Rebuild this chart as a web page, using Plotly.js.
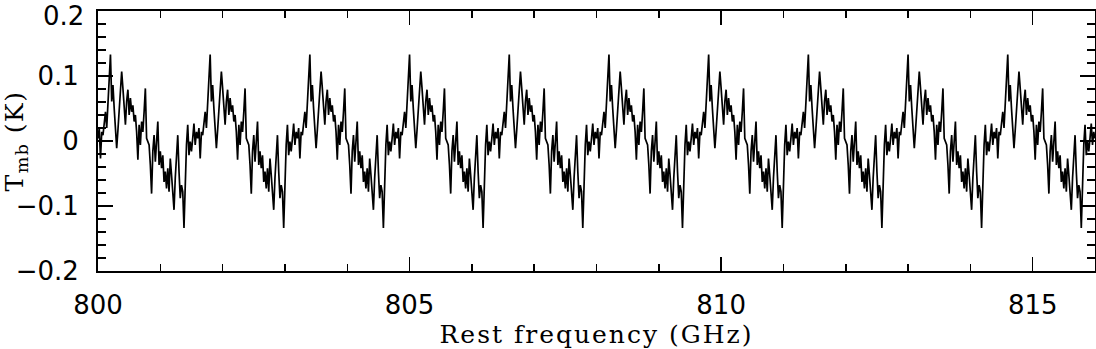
<!DOCTYPE html>
<html>
<head>
<meta charset="utf-8">
<script src="https://cdn.plot.ly/plotly-3.0.1.min.js"></script>
<style>
  html, body { margin: 0; padding: 0; background: #fff; }
  #chart { width: 1096px; height: 349px; }
  .xtitle { letter-spacing: 2px; }
  .ytitle { letter-spacing: 1.5px; }
</style>
</head>
<body>
<div id="chart"></div>
<script>
// Spectrum sampling (GHz)
const freqStart = 800;
const freqStep = 0.02;

// Main-beam temperature (K), one value per channel
const tmb = [
.004,.020,-.027,.014,.009,.030,.045,.020,.055,.091,
.133,.061,.086,.050,.020,-.011,.017,.045,.076,.107,.081,.050,.025,.061,.079,.040,.066,.045,.055,.030,.040,.014,-.029,.025,-.006,.030,.014,.045,.081,.004,-.001,-.006,-.037,-.081,-.016,.009,-.032,-.001,.030,-.037,-.016,-.042,-.022,-.063,-.047,-.073,-.042,-.078,-.027,-.052,-.078,-.106,-.057,-.022,.009,-.047,-.088,-.068,-.078,-.134,-.057,-.006,.025,-.022,-.001,-.016,.004,.027,-.006,.014,.004,.020,-.027,.014,.009,.030,.045,.020,.055,.091,
.133,.061,.086,.050,.020,-.011,.017,.045,.076,.107,.081,.050,.025,.061,.079,.040,.066,.045,.055,.030,.040,.014,-.029,.025,-.006,.030,.014,.045,.081,.004,-.001,-.006,-.037,-.081,-.016,.009,-.032,-.001,.030,-.037,-.016,-.042,-.022,-.063,-.047,-.073,-.042,-.078,-.027,-.052,-.078,-.106,-.057,-.022,.009,-.047,-.088,-.068,-.078,-.134,-.057,-.006,.025,-.022,-.001,-.016,.004,.027,-.006,.014,.004,.020,-.027,.014,.009,.030,.045,.020,.055,.091,
.133,.061,.086,.050,.020,-.011,.017,.045,.076,.107,.081,.050,.025,.061,.079,.040,.066,.045,.055,.030,.040,.014,-.029,.025,-.006,.030,.014,.045,.081,.004,-.001,-.006,-.037,-.081,-.016,.009,-.032,-.001,.030,-.037,-.016,-.042,-.022,-.063,-.047,-.073,-.042,-.078,-.027,-.052,-.078,-.106,-.057,-.022,.009,-.047,-.088,-.068,-.078,-.134,-.057,-.006,.025,-.022,-.001,-.016,.004,.027,-.006,.014,.004,.020,-.027,.014,.009,.030,.045,.020,.055,.091,
.133,.061,.086,.050,.020,-.011,.017,.045,.076,.107,.081,.050,.025,.061,.079,.040,.066,.045,.055,.030,.040,.014,-.029,.025,-.006,.030,.014,.045,.081,.004,-.001,-.006,-.037,-.081,-.016,.009,-.032,-.001,.030,-.037,-.016,-.042,-.022,-.063,-.047,-.073,-.042,-.078,-.027,-.052,-.078,-.106,-.057,-.022,.009,-.047,-.088,-.068,-.078,-.134,-.057,-.006,.025,-.022,-.001,-.016,.004,.027,-.006,.014,.004,.020,-.027,.014,.009,.030,.045,.020,.055,.091,
.133,.061,.086,.050,.020,-.011,.017,.045,.076,.107,.081,.050,.025,.061,.079,.040,.066,.045,.055,.030,.040,.014,-.029,.025,-.006,.030,.014,.045,.081,.004,-.001,-.006,-.037,-.081,-.016,.009,-.032,-.001,.030,-.037,-.016,-.042,-.022,-.063,-.047,-.073,-.042,-.078,-.027,-.052,-.078,-.106,-.057,-.022,.009,-.047,-.088,-.068,-.078,-.134,-.057,-.006,.025,-.022,-.001,-.016,.004,.027,-.006,.014,.004,.020,-.027,.014,.009,.030,.045,.020,.055,.091,
.133,.061,.086,.050,.020,-.011,.017,.045,.076,.107,.081,.050,.025,.061,.079,.040,.066,.045,.055,.030,.040,.014,-.029,.025,-.006,.030,.014,.045,.081,.004,-.001,-.006,-.037,-.081,-.016,.009,-.032,-.001,.030,-.037,-.016,-.042,-.022,-.063,-.047,-.073,-.042,-.078,-.027,-.052,-.078,-.106,-.057,-.022,.009,-.047,-.088,-.068,-.078,-.134,-.057,-.006,.025,-.022,-.001,-.016,.004,.027,-.006,.014,.004,.020,-.027,.014,.009,.030,.045,.020,.055,.091,
.133,.061,.086,.050,.020,-.011,.017,.045,.076,.107,.081,.050,.025,.061,.079,.040,.066,.045,.055,.030,.040,.014,-.029,.025,-.006,.030,.014,.045,.081,.004,-.001,-.006,-.037,-.081,-.016,.009,-.032,-.001,.030,-.037,-.016,-.042,-.022,-.063,-.047,-.073,-.042,-.078,-.027,-.052,-.078,-.106,-.057,-.022,.009,-.047,-.088,-.068,-.078,-.134,-.057,-.006,.025,-.022,-.001,-.016,.004,.027,-.006,.014,.004,.020,-.027,.014,.009,.030,.045,.020,.055,.091,
.133,.061,.086,.050,.020,-.011,.017,.045,.076,.107,.081,.050,.025,.061,.079,.040,.066,.045,.055,.030,.040,.014,-.029,.025,-.006,.030,.014,.045,.081,.004,-.001,-.006,-.037,-.081,-.016,.009,-.032,-.001,.030,-.037,-.016,-.042,-.022,-.063,-.047,-.073,-.042,-.078,-.027,-.052,-.078,-.106,-.057,-.022,.009,-.047,-.088,-.068,-.078,-.134,-.057,-.006,.025,-.022,-.001,-.016,.004,.027,-.006,.014,.004,.020,-.027,.014,.009,.030,.045,.020,.055,.091,
.133,.061,.086,.050,.020,-.011,.017,.045,.076,.107,.081,.050,.025,.061,.079,.040,.066,.045,.055,.030,.040,.014,-.029,.025,-.006,.030,.014,.045,.081,.004,-.001,-.006,-.037,-.081,-.016,.009,-.032,-.001,.030,-.037,-.016,-.042,-.022,-.063,-.047,-.073,-.042,-.078,-.027,-.052,-.078,-.106,-.057,-.022,.009,-.047,-.088,-.068,-.078,-.134,-.057,-.006,.025,-.022,-.001,-.016,.004,.027,-.006,.014,.004,.020,-.027,.014,.009,.030,.045,.020,.055,.091,
.133,.061,.086,.050,.020,-.011,.017,.045,.076,.107,.081,.050,.025,.061,.079,.040,.066,.045,.055,.030,.040,.014,-.029,.025,-.006,.030,.014,.045,.081,.004,-.001,-.006,-.037,-.081,-.016,.009,-.032,-.001,.030,-.037,-.016,-.042,-.022,-.063,-.047,-.073,-.042,-.078,-.027,-.052,-.078,-.106,-.057,-.022,.009,-.047,-.088,-.068,-.078,-.134,-.057,-.006,.025,-.022,-.001,-.016,.004,.027,-.006,.014,.004
];

// Axis ticks and labels
const xTickVals = [800, 805, 810, 815];
const xTickText = ["800", "805", "810", "815"];
const yTickVals = [-0.2, -0.1, 0, 0.1];
const yTickText = ["\u22120.2", "\u22120.1", "0", "0.1"];
const yTopLabel = "0.2";   // drawn as an annotation so it stays inside the page
const xTitle = "Rest frequency (GHz)";
const yTitle = "T<sub>mb</sub> (K)";

const trace = {
  type: "scatter",
  mode: "lines",
  x0: freqStart,
  dx: freqStep,
  y: tmb,
  line: { color: "#000000", width: 1.7 },
  hoverinfo: "skip"
};

const tickFont = { family: "DejaVu Sans", size: 26, color: "#000" };
const titleFont = { family: "DejaVu Serif", size: 25, color: "#000" };

const layout = {
  width: 1096,
  height: 349,
  margin: { l: 98, r: 1, t: 11, b: 78, pad: 0 },
  paper_bgcolor: "#ffffff",
  plot_bgcolor: "#ffffff",
  showlegend: false,
  xaxis: {
    range: [800, 816],
    tickvals: xTickVals,
    ticktext: xTickText,
    ticks: "inside",
    ticklen: 14,
    tickwidth: 1.5,
    tickcolor: "#000",
    minor: { dtick: 1, tick0: 800, ticks: "inside", ticklen: 7, tickwidth: 1.5, tickcolor: "#000" },
    showline: true,
    linecolor: "#000",
    linewidth: 2,
    mirror: "ticks",
    showgrid: false,
    zeroline: false,
    tickfont: tickFont,
    ticklabeloverflow: "allow",
    ticklabelstandoff: 10,
    title: { text: xTitle, font: titleFont, standoff: 4 }
  },
  yaxis: {
    range: [-0.2002, 0.2002],
    tickvals: yTickVals,
    ticktext: yTickText,
    ticks: "inside",
    ticklen: 15,
    tickwidth: 1.5,
    tickcolor: "#000",
    minor: { dtick: 0.02, tick0: 0, ticks: "inside", ticklen: 8, tickwidth: 1.5, tickcolor: "#000" },
    showline: true,
    linecolor: "#000",
    linewidth: 2,
    mirror: "ticks",
    showgrid: false,
    zeroline: false,
    tickfont: tickFont,
    ticklabeloverflow: "allow",
    ticklabelstandoff: 12,
    title: { text: yTitle, font: titleFont, standoff: 4 }
  },
  annotations: [{
    text: yTopLabel,
    xref: "paper", yref: "paper",
    x: 0, y: 1,
    xanchor: "right", yanchor: "top",
    xshift: -13, yshift: 11,
    showarrow: false,
    borderpad: 0,
    font: tickFont
  }]
};

Plotly.newPlot("chart", [trace], layout, { displayModeBar: false, staticPlot: true });
</script>
</body>
</html>
